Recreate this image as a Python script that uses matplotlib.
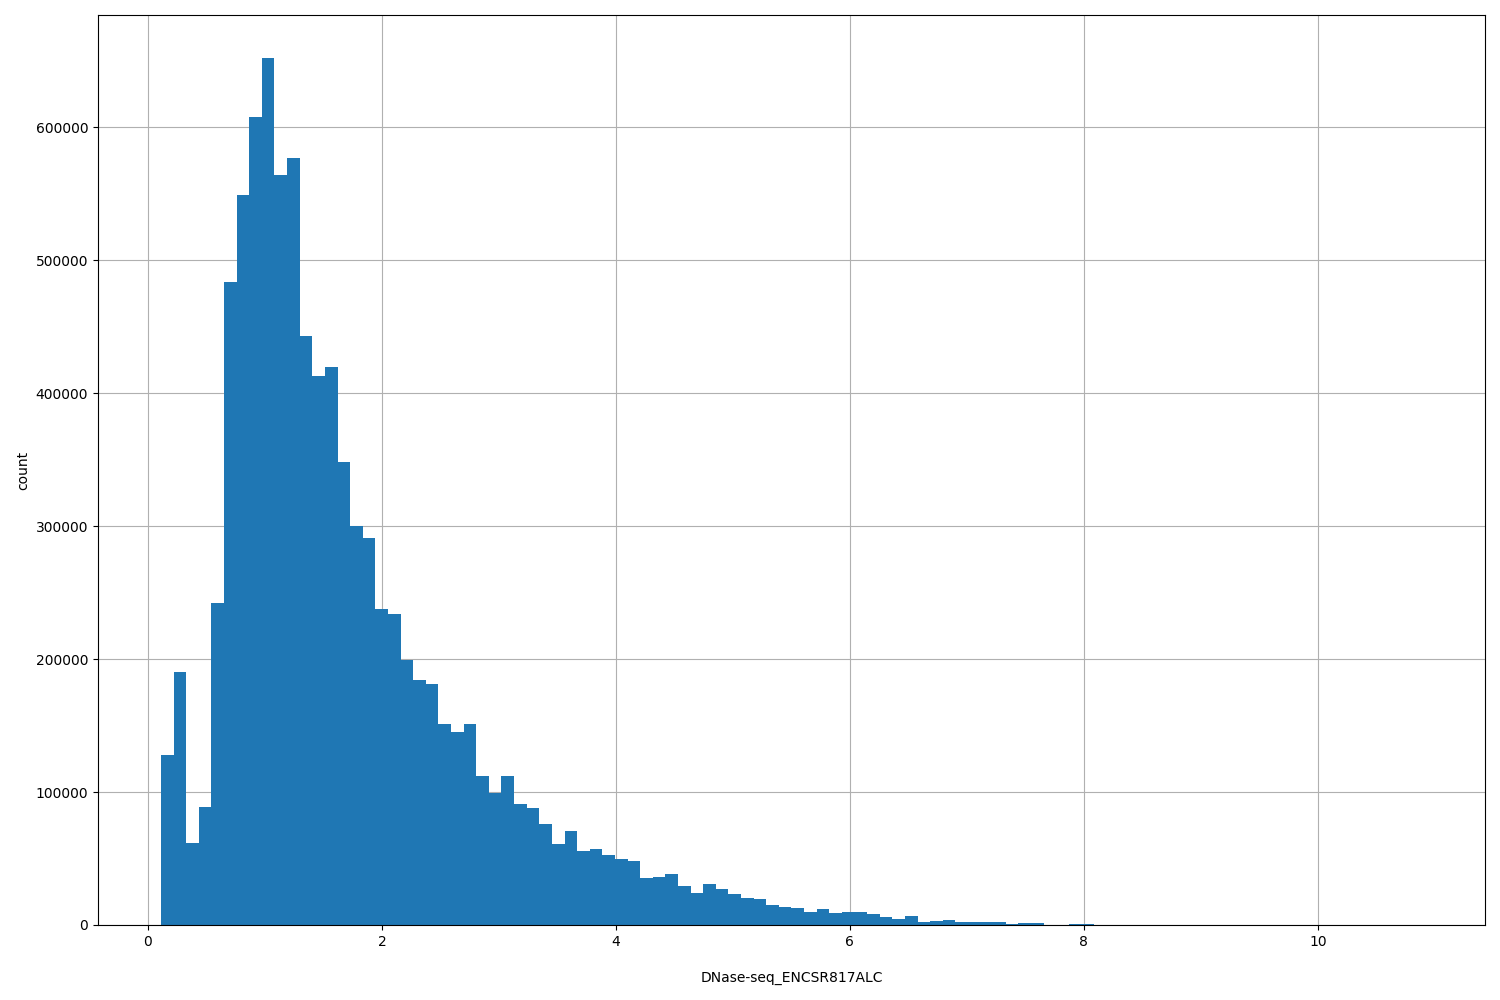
import numpy as np
import matplotlib.pyplot as plt

# value range of the track and histogram counts (100 bins)
vmin = 0.112
vmax = 10.89
counts = [
    128000, 190000, 62000, 89000, 242000, 484000, 549000, 608000, 652000, 564000,
    577000, 443000, 413000, 420000, 348000, 300000, 291000, 238000, 234000, 199000,
    184000, 181000, 151000, 145000, 151000, 112000, 99000, 112000, 91000, 88000,
    76000, 61000, 71000, 56000, 57000, 53000, 50000, 48000, 35000, 36000,
    38000, 29000, 24000, 31000, 27000, 23000, 20000, 19500, 15000, 13800,
    12800, 9800, 12000, 9000, 9800, 9800, 8300, 6000, 4500, 6800,
    2300, 3000, 3800, 2300, 2300, 2300, 2300, 800, 1500, 1500,
    200, 200, 800, 800, 150, 120, 100, 80, 60, 50,
    40, 30, 30, 20, 20, 15, 10, 10, 8, 6,
    5, 4, 3, 3, 2, 2, 1, 1, 1, 1,
]
label = 'DNase-seq_ENCSR817ALC'

edges = np.linspace(vmin, vmax, len(counts) + 1)
centers = (edges[:-1] + edges[1:]) / 2

fig = plt.figure(figsize=(15, 10), dpi=100)
ax = fig.add_subplot(1, 1, 1)
ax.hist(centers, bins=edges, weights=counts, color='#1f77b4')
ax.grid(True)
ax.set_axisbelow(True)
ax.set_xlabel(label, labelpad=16)
ax.set_ylabel('count', labelpad=4)

fig.subplots_adjust(left=0.0653, right=0.99, top=0.985, bottom=0.075)
fig.savefig('out.png', dpi=100)
